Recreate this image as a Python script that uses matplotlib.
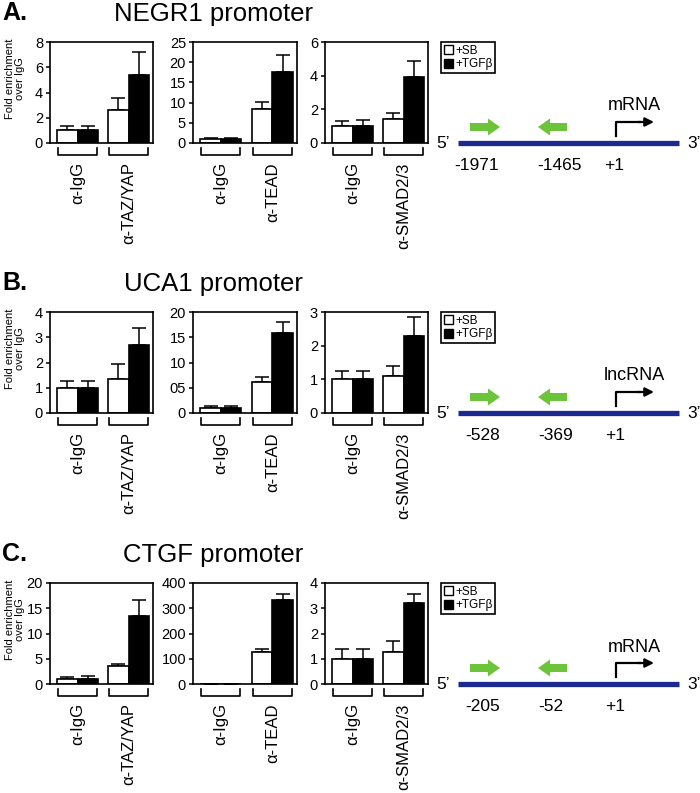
import matplotlib
matplotlib.use("Agg")
import matplotlib.pyplot as plt
from matplotlib.patches import Patch
import numpy as np

plt.rcParams["font.family"] = ["Liberation Sans", "DejaVu Sans"]

W, H = 700, 793

# ---- data ----
antibodies = ["α-TAZ/YAP", "α-TEAD", "α-SMAD2/3"]

negr1_sb = [[1.0, 2.6], [0.9, 8.3], [1.0, 1.45]]
negr1_sb_err = [[0.35, 1.0], [0.3, 1.8], [0.28, 0.35]]
negr1_tgf = [[1.0, 5.4], [1.0, 17.5], [1.0, 3.95]]
negr1_tgf_err = [[0.35, 1.8], [0.3, 4.2], [0.38, 0.95]]
negr1_ylim = [8, 25, 6]
negr1_step = [2, 5, 2]

uca1_sb = [[1.0, 1.35], [1.0, 6.1], [1.0, 1.1]]
uca1_sb_err = [[0.25, 0.6], [0.3, 1.0], [0.25, 0.3]]
uca1_tgf = [[1.0, 2.7], [1.0, 15.9], [1.0, 2.3]]
uca1_tgf_err = [[0.25, 0.65], [0.3, 2.1], [0.25, 0.55]]
uca1_ylim = [4, 20, 3]
uca1_step = [1, 5, 1]

ctgf_sb = [[1.0, 3.6], [1.0, 125], [1.0, 1.25]]
ctgf_sb_err = [[0.4, 0.3], [0.5, 15], [0.4, 0.45]]
ctgf_tgf = [[1.0, 13.5], [1.0, 333], [1.0, 3.2]]
ctgf_tgf_err = [[0.5, 3.1], [0.5, 25], [0.4, 0.35]]
ctgf_ylim = [20, 400, 4]
ctgf_step = [5, 100, 1]

negr1_sites = ["-1971", "-1465", "+1"]
uca1_sites = ["-528", "-369", "+1"]
ctgf_sites = ["-205", "-52", "+1"]

fig = plt.figure(figsize=(W / 100, H / 100), dpi=100)


def px_axes(x0, y0, x1, y1):
    # pixel box (top-left origin) -> figure axes
    return fig.add_axes([x0 / W, 1 - y1 / H, (x1 - x0) / W, (y1 - y0) / H])


def bar_panel(ax, sb, sb_err, tgf, tgf_err, ymax, step, ab, ticklabels=None):
    pos = np.array([0.0, 2.5])
    ax.bar(pos, sb, 1.0, color="white", edgecolor="black", lw=1.2, zorder=2)
    ax.bar(pos + 1, tgf, 1.0, color="black", edgecolor="black", lw=1.2, zorder=2)
    ax.errorbar(pos, sb, yerr=[np.zeros(2), sb_err], fmt="none",
                ecolor="black", elinewidth=1.1, capsize=5, capthick=1.1, zorder=1)
    ax.errorbar(pos + 1, tgf, yerr=[np.zeros(2), tgf_err], fmt="none",
                ecolor="black", elinewidth=1.1, capsize=5, capthick=1.1, zorder=1)
    ax.set_xlim(-0.85, 4.2)
    ax.set_ylim(0, ymax)
    ticks = np.arange(0, ymax + step / 2, step)
    ax.set_yticks(ticks)
    if ticklabels is not None:
        ax.set_yticklabels(ticklabels)
    ax.set_xticks([])
    ax.tick_params(axis="y", direction="out", length=3, width=1.1,
                   labelsize=10.5, pad=2)
    for s in ax.spines.values():
        s.set_linewidth(1.2)
    # brackets + labels under the axes
    for p, lab in zip(pos, ["α-IgG", ab]):
        xs = [p - 0.45, p - 0.45, p + 1.45, p + 1.45]
        ax.plot(xs, [-0.05, -0.12, -0.12, -0.05], color="black", lw=1.2,
                transform=ax.get_xaxis_transform(), clip_on=False)
        ax.text(p + 0.5, -0.19, lab, rotation=90, ha="center", va="top",
                fontsize=12, transform=ax.get_xaxis_transform())


def promoter(top, sites, site_x, rna):
    line_y = top + 101
    ax = px_axes(425, top, 700, top + 140)
    ax.set_xlim(425, 700)
    ax.set_ylim(top + 140, top)
    ax.axis("off")
    ax.plot([458, 679], [line_y, line_y], color="#1c2a8f", lw=3.8,
            solid_capstyle="butt")
    ax.text(443, line_y, "5’", fontsize=12.5, ha="center", va="center")
    ax.text(694, line_y, "3’", fontsize=12.5, ha="center", va="center")
    ax.arrow(470, line_y - 16, 18, 0, width=8, head_width=17, head_length=12,
             length_includes_head=False, color="#6cc43a", lw=0)
    ax.arrow(567, line_y - 16, -17, 0, width=8, head_width=17, head_length=12,
             length_includes_head=False, color="#6cc43a", lw=0)
    ax.plot([616, 616, 640], [line_y - 7, line_y - 21, line_y - 21],
            color="black", lw=1.6)
    ax.annotate("", xy=(654, line_y - 21), xytext=(638, line_y - 21),
                arrowprops=dict(arrowstyle="-|>", mutation_scale=13, lw=1.6,
                                color="black", shrinkA=0, shrinkB=0))
    ax.text(634, line_y - 37, rna, fontsize=13, ha="center", va="center")
    for x, s in zip(site_x, sites):
        ax.text(x, line_y + 22, s, fontsize=12.5, ha="center", va="center")


panels = [
    ("A.", "NEGR1 promoter", 42, negr1_sb, negr1_sb_err, negr1_tgf, negr1_tgf_err,
     negr1_ylim, negr1_step, negr1_sites, [477, 560, 614], "mRNA"),
    ("B.", "UCA1 promoter", 312, uca1_sb, uca1_sb_err, uca1_tgf, uca1_tgf_err,
     uca1_ylim, uca1_step, uca1_sites, [483, 556, 615], "lncRNA"),
    ("C.", "CTGF promoter", 583, ctgf_sb, ctgf_sb_err, ctgf_tgf, ctgf_tgf_err,
     ctgf_ylim, ctgf_step, ctgf_sites, [483, 551, 615], "mRNA"),
]

xboxes = [(50, 153), (193, 297), (325, 428)]

for letter, title, top, sb, sbe, tg, tge, ylims, steps, sites, sx, rna in panels:
    bottom = top + 101
    fig.text(2 / W, 1 - (top - 29) / H, letter, fontsize=18, fontweight="bold",
             ha="left", va="center")
    fig.text(213 / W, 1 - (top - 28) / H, title, fontsize=18.5,
             ha="center", va="center")
    fig.text(15 / W, 1 - (top + 37) / H, "Fold enrichment\nover IgG",
             fontsize=8, rotation=90, ha="center", va="center", linespacing=0.95)
    for i, (x0, x1) in enumerate(xboxes):
        ax = px_axes(x0, top, x1, bottom)
        labels = None
        if title.startswith("UCA1") and i == 1:
            labels = ["0", "05", "10", "15", "20"]
        bar_panel(ax, sb[i], sbe[i], tg[i], tge[i], ylims[i], steps[i],
                  antibodies[i], labels)
    handles = [Patch(facecolor="white", edgecolor="black", lw=1),
               Patch(facecolor="black", edgecolor="black", lw=1)]
    leg = fig.legend(handles, ["+SB", "+TGFβ"], loc="upper left",
                     bbox_to_anchor=(441 / W, 1 - top / H), fontsize=8.5,
                     handlelength=0.8, handleheight=0.8, handletextpad=0.15,
                     labelspacing=0.1, borderpad=0.25, borderaxespad=0,
                     fancybox=False, edgecolor="black", framealpha=1)
    leg.get_frame().set_linewidth(1.2)
    promoter(top, sites, sx, rna)

fig.savefig("out.png", dpi=100)
